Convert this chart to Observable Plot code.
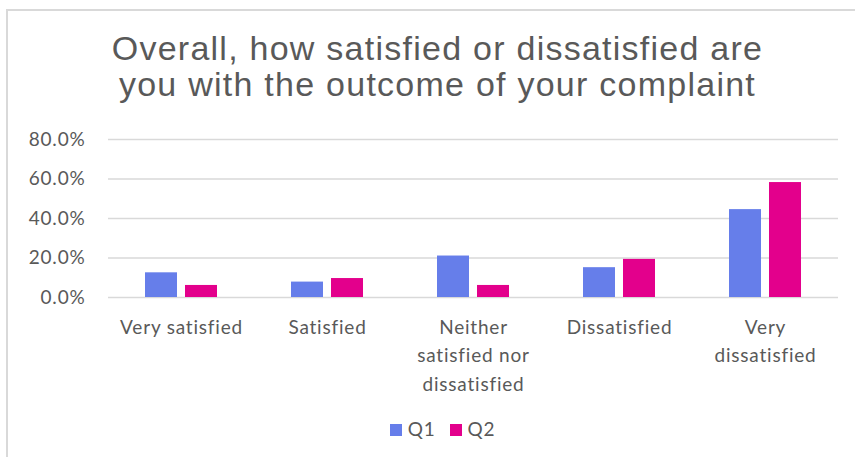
<!DOCTYPE html>
<html>
<head>
<meta charset="utf-8">
<script src="https://cdn.jsdelivr.net/npm/d3@7"></script>
<script src="https://cdn.jsdelivr.net/npm/@observablehq/plot@0.6"></script>
<style>
  html, body { margin: 0; padding: 0; background: #fff; }
  body { width: 855px; height: 457px; overflow: hidden; position: relative; }
  #frame { position: absolute; left: 6px; top: 9px; width: 900px; height: 500px; border: 2px solid #d9d9d9; box-sizing: border-box; }
  #title { position: absolute; left: 0; width: 875px; top: 30px; text-align: center; font-family: "Liberation Sans", Arial, sans-serif; font-size: 34px; line-height: 36px; letter-spacing: 1.25px; color: #595959; }
  #chart { position: absolute; left: 0; top: 120px; }
  #legend { position: absolute; left: 0; width: 885px; top: 420px; text-align: center; font-family: Lato, sans-serif; font-size: 19px; line-height: 18px; letter-spacing: 0.8px; color: #595959; }
  .item { display: inline-block; margin: 0 7px; }
  .sw { display: inline-block; width: 12px; height: 12px; margin-right: 6px; vertical-align: baseline; }
</style>
</head>
<body>
<div id="frame"></div>
<div id="title">Overall, how satisfied or dissatisfied are<br>you with the outcome of your complaint</div>
<div id="chart"></div>
<div id="legend"></div>
<script>
const categories = ["Very satisfied", "Satisfied", "Neither satisfied nor dissatisfied", "Dissatisfied", "Very dissatisfied"];
const tickLabels = ["Very satisfied", "Satisfied", "Neither\nsatisfied nor\ndissatisfied", "Dissatisfied", "Very\ndissatisfied"];
const series = ["Q1", "Q2"];
const q1 = [0.125, 0.078, 0.210, 0.151, 0.445];
const q2 = [0.061, 0.096, 0.061, 0.193, 0.582];
const yTicks = [0, 0.2, 0.4, 0.6, 0.8];
const colors = ["#667eea", "#e3008c"];

const data = categories.flatMap((c, i) => [
  {category: c, series: "Q1", value: q1[i]},
  {category: c, series: "Q2", value: q2[i]}
]);

const chart = Plot.plot({
  width: 855,
  height: 280,
  marginLeft: 107,
  marginRight: 16,
  marginTop: 19,
  marginBottom: 103,
  style: {fontFamily: "Lato, sans-serif", fontSize: "19px", letterSpacing: "0.8px", color: "#595959", background: "transparent", overflow: "visible"},
  fx: {domain: categories, paddingInner: 0, paddingOuter: 0, label: null},
  x: {domain: series, paddingInner: 0.195, paddingOuter: 0.883, axis: null},
  y: {domain: [0, 0.8], label: null},
  color: {domain: series, range: colors},
  marks: [
    Plot.ruleY(yTicks, {stroke: "#d9d9d9", strokeWidth: 1.5}),
    Plot.barY(data, {fx: "category", x: "series", y: "value", fill: "series"}),
    Plot.axisY(yTicks, {tickSize: 0, tickPadding: 23, tickFormat: d3.format(".1%"), fontSize: 19, fill: "#595959", label: null}),
    Plot.axisFx({anchor: "bottom", tickSize: 0, tickPadding: 16, tickFormat: c => tickLabels[categories.indexOf(c)], lineHeight: 1.5, fontSize: 19, fill: "#595959", label: null})
  ]
});
document.getElementById("chart").appendChild(chart);

const legend = document.getElementById("legend");
series.forEach((s, i) => {
  const item = document.createElement("span");
  item.className = "item";
  const sw = document.createElement("span");
  sw.className = "sw";
  sw.style.background = colors[i];
  item.appendChild(sw);
  item.appendChild(document.createTextNode(s));
  legend.appendChild(item);
});
</script>
</body>
</html>
